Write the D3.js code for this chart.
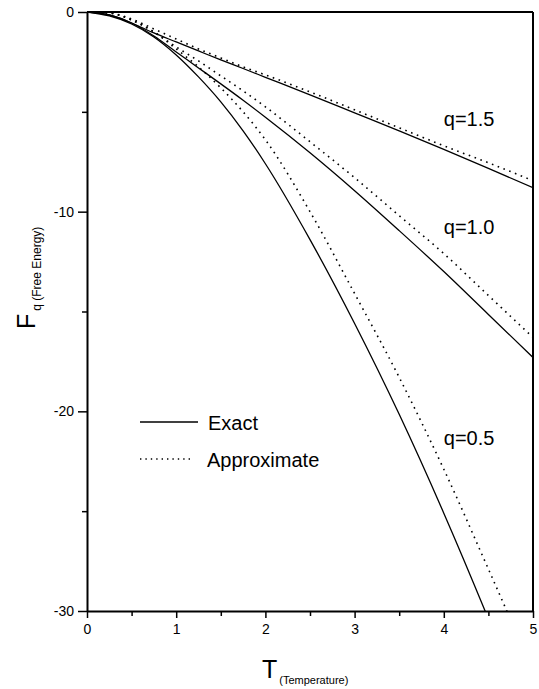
<!DOCTYPE html>
<html>
<head>
<meta charset="utf-8">
<script src="https://cdn.jsdelivr.net/npm/d3@7"></script>
<style>
  body { margin: 0; background: #fff; }
  svg { font-family: "Liberation Sans", Arial, sans-serif; }
  .axis path, .axis line { stroke: #000; }
  .axis text { font-size: 14px; fill: #000; }
</style>
</head>
<body>
<div id="chart"></div>
<script>
// temperatures (T)
const tGrid = [0, 0.25, 0.5, 0.75, 1, 1.25, 1.5, 1.75, 2, 2.5, 3, 3.5, 4, 4.5, 5];

// exact free energy curves
const exact15 = [0, -0.15, -0.55, -1.05, -1.5, -1.95, -2.4, -2.83, -3.27, -4.15, -5.05, -5.95, -6.88, -7.83, -8.8];
const exact10 = [0, -0.15, -0.55, -1.2, -2.0, -2.8, -3.6, -4.42, -5.27, -7.05, -8.95, -10.95, -13.0, -15.15, -17.3];
const exact05 = [0, -0.2, -0.6, -1.25, -2.15, -3.25, -4.5, -5.95, -7.6, -11.4, -15.6, -20.15, -25.1, -30.4, -36];

// approximate curves
const approx15 = [0, -0.05, -0.35, -0.85, -1.35, -1.85, -2.3, -2.75, -3.15, -4.0, -4.9, -5.8, -6.7, -7.55, -8.45];
const approx10 = [0, -0.05, -0.4, -1.0, -1.75, -2.45, -3.2, -3.95, -4.75, -6.5, -8.3, -10.2, -12.1, -14.2, -16.3];
const approx05 = [0, -0.05, -0.4, -1.0, -1.85, -2.75, -3.8, -5.0, -6.4, -10.0, -14.1, -18.3, -22.9, -27.9, -33];

const xMajor = [0, 1, 2, 3, 4, 5];
const xMinor = [0.5, 1.5, 2.5, 3.5, 4.5];
const yMajor = [0, -10, -20, -30];
const yMinor = [-5, -15, -25];

const curveLabels = [
  {text: "q=1.5", t: 4.0, f: -5.7},
  {text: "q=1.0", t: 4.0, f: -11.1},
  {text: "q=0.5", t: 4.0, f: -21.7}
];

const margin = {top: 12, right: 6, bottom: 78, left: 87};
const width = 539 - margin.left - margin.right;
const height = 689 - margin.top - margin.bottom;

const svg = d3.select("#chart").append("svg")
  .attr("width", 539)
  .attr("height", 689);

const chart = svg.append("g")
  .attr("transform", "translate(" + margin.left + "," + margin.top + ")");

const x = d3.scaleLinear().domain([0, 5]).range([0, width]);
const y = d3.scaleLinear().domain([-30, 0]).range([height, 0]);

chart.append("clipPath").attr("id", "clip")
  .append("rect").attr("width", width).attr("height", height);

// minor ticks first so the major axis sits on top
chart.append("g")
  .attr("class", "axis")
  .attr("transform", "translate(0," + height + ")")
  .call(d3.axisBottom(x).tickValues(xMinor).tickSize(5).tickFormat(""))
  .call(g => g.select(".domain").remove())
  .selectAll("line").attr("stroke-width", 1.5);

chart.append("g")
  .attr("class", "axis")
  .call(d3.axisLeft(y).tickValues(yMinor).tickSize(5).tickFormat(""))
  .call(g => g.select(".domain").remove())
  .selectAll("line").attr("stroke-width", 1.5);

const xAxis = chart.append("g")
  .attr("class", "axis")
  .attr("transform", "translate(0," + height + ")")
  .call(d3.axisBottom(x).tickValues(xMajor).tickSize(7).tickSizeOuter(0).tickPadding(6).tickFormat(d3.format("d")));
xAxis.select(".domain").attr("stroke-width", 2);
xAxis.selectAll("line").attr("stroke-width", 1.5);

const yAxis = chart.append("g")
  .attr("class", "axis")
  .call(d3.axisLeft(y).tickValues(yMajor).tickSize(9).tickSizeOuter(0).tickPadding(4)
    .tickFormat(d => d === 0 ? "0" : "-" + Math.abs(d)));
yAxis.select(".domain").attr("stroke-width", 2);
yAxis.selectAll("line").attr("stroke-width", 1.5);

// top and right frame
chart.append("line")
  .attr("x1", 0).attr("x2", width).attr("y1", 0).attr("y2", 0)
  .attr("stroke", "#000").attr("stroke-width", 2.2);
chart.append("line")
  .attr("x1", width).attr("x2", width).attr("y1", 0).attr("y2", height)
  .attr("stroke", "#000").attr("stroke-width", 2);

const line = d3.line()
  .x(d => x(d[0]))
  .y(d => y(d[1]))
  .curve(d3.curveMonotoneX);

const series = [
  {values: exact15, dotted: false},
  {values: exact10, dotted: false},
  {values: exact05, dotted: false},
  {values: approx15, dotted: true},
  {values: approx10, dotted: true},
  {values: approx05, dotted: true}
];

const curves = chart.append("g").attr("clip-path", "url(#clip)");
series.forEach(s => {
  curves.append("path")
    .datum(tGrid.map((t, i) => [t, s.values[i]]))
    .attr("fill", "none")
    .attr("stroke", "#000")
    .attr("stroke-width", s.dotted ? 1.6 : 1.3)
    .attr("stroke-dasharray", s.dotted ? "1.6,4.6" : null)
    .attr("d", line);
});

chart.selectAll(".qlabel")
  .data(curveLabels)
  .enter().append("text")
  .attr("class", "qlabel")
  .attr("x", d => x(d.t))
  .attr("y", d => y(d.f))
  .attr("font-size", 20)
  .text(d => d.text);

// legend
const legend = chart.append("g").attr("transform", "translate(53,410)");
legend.append("line")
  .attr("x1", 0).attr("x2", 58).attr("y1", 0).attr("y2", 0)
  .attr("stroke", "#000").attr("stroke-width", 1.3);
legend.append("text")
  .attr("x", 68).attr("y", 8).attr("font-size", 20).text("Exact");
legend.append("line")
  .attr("x1", 0).attr("x2", 52).attr("y1", 37).attr("y2", 37)
  .attr("stroke", "#000").attr("stroke-width", 1.4).attr("stroke-dasharray", "1.4,4");
legend.append("text")
  .attr("x", 67).attr("y", 45).attr("font-size", 20).text("Approximate");

// axis titles
const xTitle = svg.append("text")
  .attr("x", 262).attr("y", 678);
xTitle.append("tspan").attr("font-size", 25).text("T");
xTitle.append("tspan").attr("font-size", 11).attr("dx", 2).attr("dy", 6).text("(Temperature)");

const yTitle = svg.append("text")
  .attr("transform", "translate(35,329) rotate(-90)");
yTitle.append("tspan").attr("font-size", 25).text("F");
yTitle.append("tspan").attr("font-size", 12).attr("dx", 3).attr("dy", 6).text("q (Free Energy)");
</script>
</body>
</html>
